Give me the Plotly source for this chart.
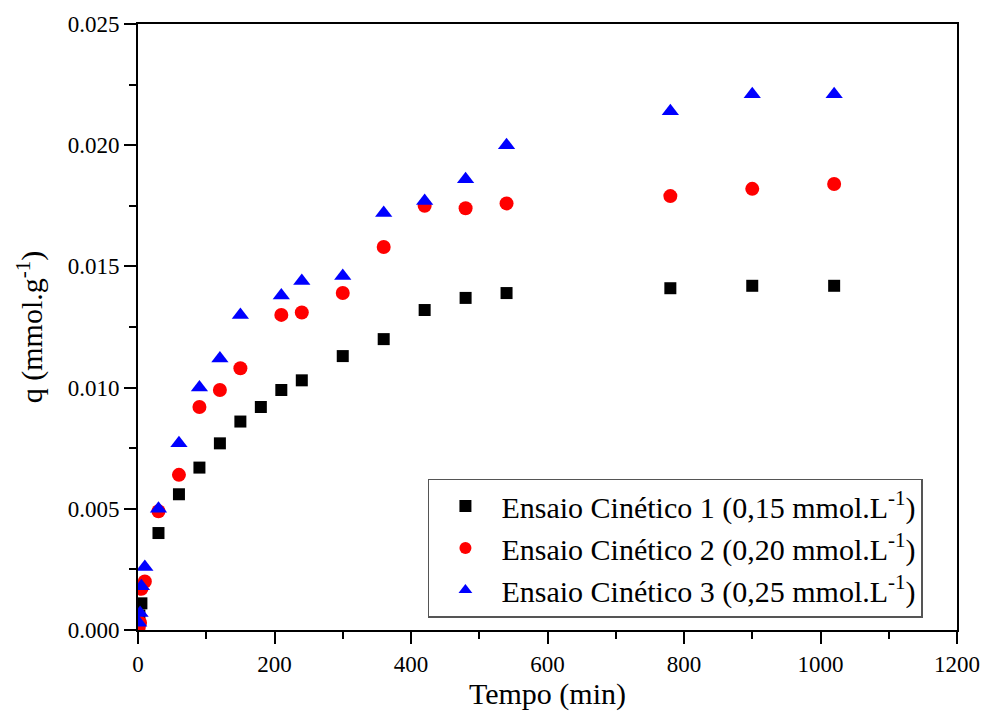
import plotly.graph_objects as go

# Data
time_1 = [1, 2, 5, 30, 60, 90, 120, 150, 180, 210, 240, 300, 360, 420, 480, 540, 780, 900, 1020]
q_1 = [0.0002, 0.0006, 0.0011, 0.0040, 0.0056, 0.0067, 0.0077, 0.0086, 0.0092, 0.0099, 0.0103,
       0.0113, 0.0120, 0.0132, 0.0137, 0.0139, 0.0141, 0.0142, 0.0142]

time_2 = [1, 3, 5, 10, 30, 60, 90, 120, 150, 210, 240, 300, 360, 420, 480, 540, 780, 900, 1020]
q_2 = [0.0001, 0.0003, 0.0017, 0.0020, 0.0049, 0.0064, 0.0092, 0.0099, 0.0108, 0.0130, 0.0131,
       0.0139, 0.0158, 0.0175, 0.0174, 0.0176, 0.0179, 0.0182, 0.0184]

time_3 = [1, 3, 5, 10, 30, 60, 90, 120, 150, 210, 240, 300, 360, 420, 480, 540, 780, 900, 1020]
q_3 = [0.0003, 0.0007, 0.0018, 0.0026, 0.0050, 0.0077, 0.0100, 0.0112, 0.0130, 0.0138, 0.0144,
       0.0146, 0.0172, 0.0177, 0.0186, 0.0200, 0.0214, 0.0221, 0.0221]

names = [
    "Ensaio Cinético 1 (0,15 mmol.L<sup>-1</sup>)",
    "Ensaio Cinético 2 (0,20 mmol.L<sup>-1</sup>)",
    "Ensaio Cinético 3 (0,25 mmol.L<sup>-1</sup>)",
]

FONT = "Liberation Serif"

fig = go.Figure()
fig.add_trace(go.Scatter(x=time_1, y=q_1, mode="markers", name=names[0],
                         marker=dict(symbol="square", size=12, color="black")))
fig.add_trace(go.Scatter(x=time_2, y=q_2, mode="markers", name=names[1],
                         marker=dict(symbol="circle", size=14, color="#ff0000")))
fig.add_trace(go.Scatter(x=time_3, y=q_3, mode="markers", name=names[2],
                         marker=dict(symbol="triangle-up", size=15, color="#0000ff")))

axis_common = dict(
    showgrid=False, zeroline=False, showline=True, linecolor="black", linewidth=2,
    mirror=True, ticks="outside", ticklen=12, tickwidth=2, tickcolor="black",
    tickfont=dict(family=FONT, size=23, color="black"),
)

fig.update_xaxes(range=[0, 1200], dtick=200, tick0=0,
                 minor=dict(dtick=100, ticks="outside", ticklen=7, tickwidth=2, tickcolor="black"),
                 title=dict(text="Tempo (min)", font=dict(family=FONT, size=30, color="black"), standoff=2),
                 **axis_common)
fig.update_yaxes(range=[0, 0.025], dtick=0.005, tick0=0, tickformat=".3f",
                 minor=dict(dtick=0.0025, ticks="outside", ticklen=7, tickwidth=2, tickcolor="black"),
                 title=dict(text="q (mmol.g<sup>-1</sup>)", font=dict(family=FONT, size=30, color="black"), standoff=16),
                 **axis_common)

fig.update_layout(
    width=992, height=727,
    margin=dict(l=138, r=29, t=21, b=97),
    paper_bgcolor="white", plot_bgcolor="white",
    showlegend=True,
    legend=dict(x=0.354, y=0.25, xanchor="left", yanchor="top",
                bgcolor="white", bordercolor="#555555", borderwidth=1.5,
                font=dict(family=FONT, size=30, color="black"),
                itemsizing="constant", itemwidth=62),
)

fig.write_html("out.html")
